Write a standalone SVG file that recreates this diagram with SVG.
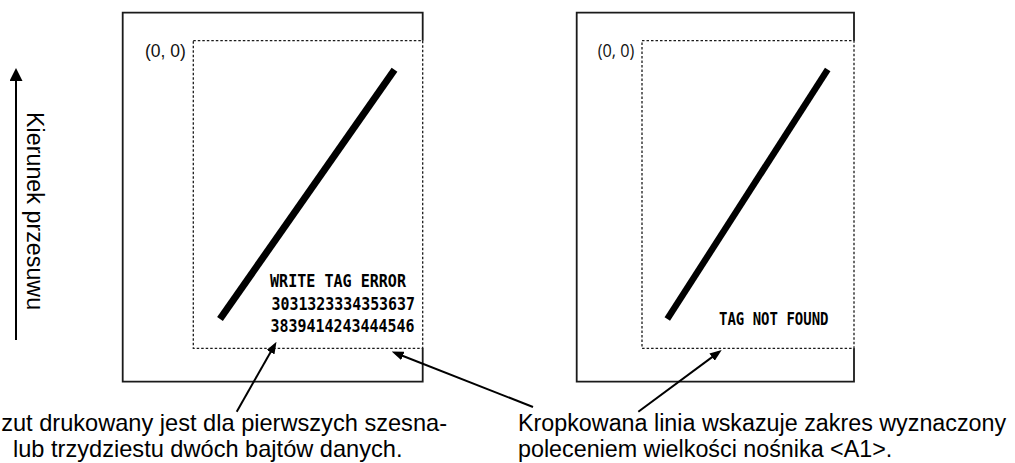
<svg xmlns="http://www.w3.org/2000/svg" width="1015" height="463" viewBox="0 0 1015 463">
<style>
.frame{fill:none;stroke:#1a1a1a;stroke-width:1.8}
.range{fill:none;stroke:#1a1a1a;stroke-width:1.3;stroke-dasharray:2.5 2}
.diag{stroke:#000;stroke-width:7;stroke-linecap:butt}
.lbl{font-family:"Liberation Sans",Arial,sans-serif;font-size:23.3px;fill:#000}
.orig{font-family:"Liberation Sans",Arial,sans-serif;font-size:17.5px;fill:#111}
.orig2{font-family:"Open Sans","Noto Sans",sans-serif;font-size:18px;fill:#111}
.prn{font-family:"DejaVu Sans Mono","Liberation Mono",monospace;font-weight:bold;font-size:18.5px;fill:#000}
.conn{fill:none;stroke:#000;stroke-width:2}
</style>
<defs>
<marker id="ah" markerUnits="userSpaceOnUse" viewBox="0 0 12 9" markerWidth="12" markerHeight="9" refX="8" refY="4.5" orient="auto">
<path d="M0,0 L12,4.5 L0,9 z" fill="#000"/>
</marker>
<marker id="ahBig" markerUnits="userSpaceOnUse" viewBox="0 0 13 13" markerWidth="13" markerHeight="13" refX="8" refY="6.5" orient="auto">
<path d="M0,0 L13,6.5 L0,13 z" fill="#000"/>
</marker>
</defs>

<g id="direction">
<line class="conn" x1="16" y1="340" x2="16" y2="73" marker-end="url(#ahBig)"/>
<text class="lbl" transform="translate(26.5,112) rotate(90)">Kierunek przesuwu</text>
</g>

<g id="panel-left">
<path class="frame" d="M422.7,40.7 V12.7 H122.7 V381.7 H422.7 V348.3"/>
<rect class="range" x="193.3" y="40.7" width="229.4" height="307.6"/>
<text class="orig" x="145" y="56.5">(0, 0)</text>
<line class="diag" x1="394.5" y1="69.7" x2="220" y2="319"/>
<text class="prn" x="270" y="286.7" textLength="136" lengthAdjust="spacingAndGlyphs">WRITE TAG ERROR</text>
<text class="prn" x="271.5" y="310" textLength="143.5" lengthAdjust="spacingAndGlyphs">3031323334353637</text>
<text class="prn" x="270.5" y="331.5" textLength="144" lengthAdjust="spacingAndGlyphs">3839414243444546</text>
</g>

<g id="panel-right">
<path class="frame" d="M854,40.7 V12.7 H576.7 V381.7 H854 V348.3"/>
<rect class="range" x="642" y="40.7" width="212" height="307.6"/>
<text class="orig2" x="597.7" y="56.5" textLength="36.6" lengthAdjust="spacingAndGlyphs">(0, 0)</text>
<line class="diag" style="stroke-width:6.5" x1="827.7" y1="69.5" x2="667.3" y2="319"/>
<text class="prn" x="719" y="325" textLength="109.5" lengthAdjust="spacingAndGlyphs">TAG NOT FOUND</text>
</g>

<g id="note-left">
<text class="lbl" style="font-size:23.6px" x="447" y="431" text-anchor="end">zut drukowany jest dla pierwszych szesna-</text>
<text class="lbl" style="font-size:23.6px" x="13" y="457">lub trzydziestu dwóch bajtów danych.</text>
</g>

<g id="note-right">
<text class="lbl" x="518" y="431">Kropkowana linia wskazuje zakres wyznaczony</text>
<text class="lbl" x="518" y="457">poleceniem wielkości nośnika &lt;A1&gt;.</text>
</g>

<g id="connectors">
<line class="conn" x1="236.7" y1="411.7" x2="274.5" y2="345.2" marker-end="url(#ah)"/>
<line class="conn" x1="533" y1="407" x2="395.4" y2="353" marker-end="url(#ah)"/>
<line class="conn" x1="638.3" y1="411.7" x2="718.5" y2="352.4" marker-end="url(#ah)"/>
</g>
</svg>
